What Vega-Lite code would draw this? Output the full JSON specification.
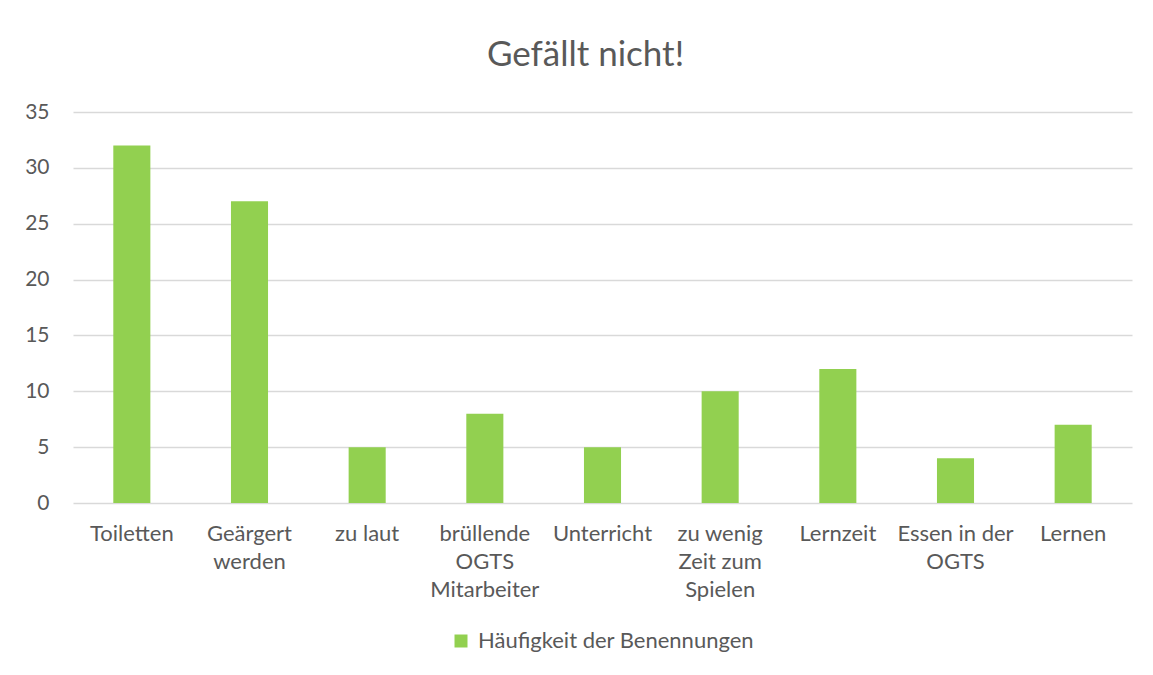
{
  "$schema": "https://vega.github.io/schema/vega-lite/v6.json",
  "autosize": "none",
  "width": 1059,
  "height": 391,
  "padding": {"left": 73, "top": 112, "right": 21, "bottom": 172},
  "background": "white",
  "title": {
    "text": "Gefällt nicht!",
    "font": "Lato",
    "fontSize": 35,
    "fontWeight": "normal",
    "color": "#595959",
    "anchor": "middle",
    "dx": -17,
    "offset": 28
  },
  "data": {
    "values": [
      {"kategorie": "Toiletten", "anzahl": 32, "serie": "Häufigkeit der Benennungen"},
      {"kategorie": "Geärgert werden", "anzahl": 27, "serie": "Häufigkeit der Benennungen"},
      {"kategorie": "zu laut", "anzahl": 5, "serie": "Häufigkeit der Benennungen"},
      {"kategorie": "brüllende OGTS Mitarbeiter", "anzahl": 8, "serie": "Häufigkeit der Benennungen"},
      {"kategorie": "Unterricht", "anzahl": 5, "serie": "Häufigkeit der Benennungen"},
      {"kategorie": "zu wenig Zeit zum Spielen", "anzahl": 10, "serie": "Häufigkeit der Benennungen"},
      {"kategorie": "Lernzeit", "anzahl": 12, "serie": "Häufigkeit der Benennungen"},
      {"kategorie": "Essen in der OGTS", "anzahl": 4, "serie": "Häufigkeit der Benennungen"},
      {"kategorie": "Lernen", "anzahl": 7, "serie": "Häufigkeit der Benennungen"}
    ]
  },
  "mark": {"type": "bar", "color": "#92D050"},
  "encoding": {
    "x": {
      "field": "kategorie",
      "type": "nominal",
      "sort": null,
      "scale": {"paddingInner": 0.685, "paddingOuter": 0.3425},
      "axis": {
        "title": null,
        "labelAngle": 0,
        "labelFont": "Lato",
        "labelFontSize": 22,
        "labelColor": "#595959",
        "labelPadding": 20,
        "labelLineHeight": 28,
        "labelBaseline": "top",
        "ticks": false,
        "domain": false,
        "labelLimit": 200,
        "labelExpr": "datum.label == 'Geärgert werden' ? ['Geärgert', 'werden'] : datum.label == 'brüllende OGTS Mitarbeiter' ? ['brüllende', 'OGTS', 'Mitarbeiter'] : datum.label == 'zu wenig Zeit zum Spielen' ? ['zu wenig', 'Zeit zum', 'Spielen'] : datum.label == 'Essen in der OGTS' ? ['Essen in der', 'OGTS'] : datum.label"
      }
    },
    "y": {
      "field": "anzahl",
      "type": "quantitative",
      "scale": {"domain": [0, 35]},
      "axis": {
        "title": null,
        "values": [0, 5, 10, 15, 20, 25, 30, 35],
        "labelFont": "Lato",
        "labelFontSize": 21,
        "labelColor": "#595959",
        "labelPadding": 24,
        "ticks": false,
        "domain": false,
        "gridColor": "#D9D9D9",
        "gridWidth": 1.3
      }
    },
    "color": {
      "field": "serie",
      "type": "nominal",
      "scale": {"range": ["#92D050"]},
      "legend": {
        "title": null,
        "orient": "bottom",
        "direction": "horizontal",
        "symbolType": "square",
        "symbolSize": 169,
        "symbolStrokeWidth": 0,
        "labelFont": "Lato",
        "labelFontSize": 22,
        "labelColor": "#595959",
        "labelOffset": 6,
        "offset": 30,
        "labelLimit": 400
      }
    }
  },
  "config": {
    "view": {"stroke": null},
    "legend": {"layout": {"bottom": {"anchor": "middle"}}}
  }
}
